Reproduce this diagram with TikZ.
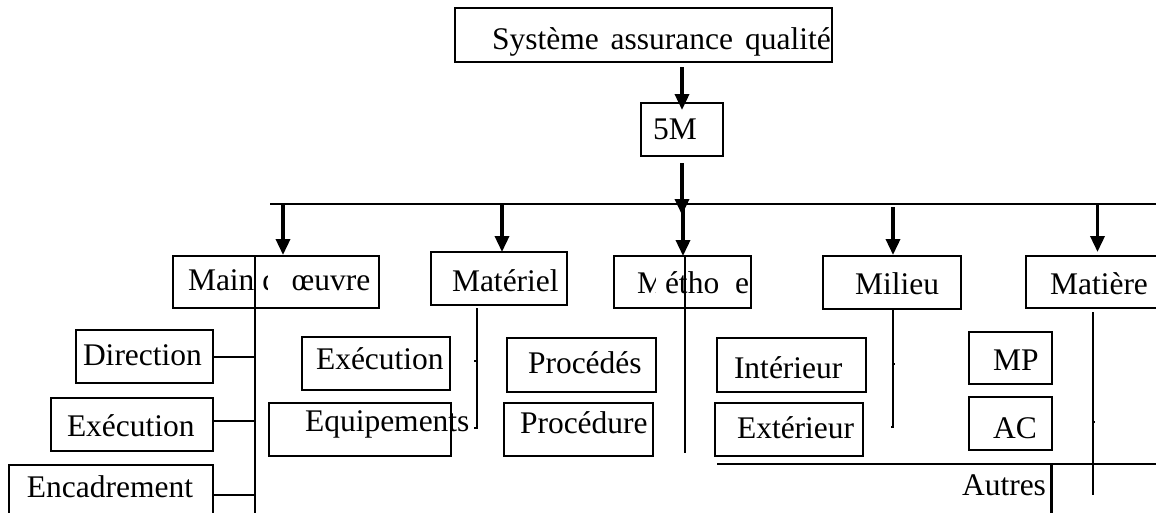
\documentclass[tikz,border=0pt]{standalone}
\usepackage{fontspec}
\setmainfont{Liberation Serif}
\usetikzlibrary{arrows.meta}
\begin{document}
\begin{tikzpicture}[x=1pt,y=-1pt,
  box/.style={draw, line width=2pt, inner sep=0pt, outer sep=0pt},
  lbl/.style={inner sep=0pt, outer sep=0pt, anchor=base west, font=\fontsize{31.5}{36}\selectfont},
  arr/.style={line width=3.5pt, -{Triangle[width=14pt,length=16pt]}},
  ln/.style={line width=2pt},
  bold/.style={line width=2.6pt}]
\useasboundingbox (0,0) rectangle (1156,512);
\clip (0,0) rectangle (1156,512);
\newcommand\mybox[5]{\node[box, minimum width={(#4-#2)*1pt}, minimum height={(#5-#3)*1pt}] (#1) at ({(#2+#4)/2},{(#3+#5)/2}) {};}
% boxes
\mybox{top}{455}{8}{832}{62}
\mybox{m5}{641}{103}{723}{156}
\mybox{main}{173}{256}{379}{308}
\mybox{mat}{431}{252}{567}{305}
\mybox{meth}{614}{256}{751}{308}
\mybox{mil}{823}{256}{961}{309}
\mybox{mtr}{1026}{256}{1175}{308}
\mybox{dir}{76}{330}{213}{383}
\mybox{exe}{51}{398}{213}{451}
\mybox{enc}{9}{465}{213}{516}
\mybox{exe2}{302}{337}{450}{390}
\mybox{equ}{269}{403}{451}{456}
\mybox{proc}{507}{338}{656}{392}
\mybox{procd}{504}{403}{653}{456}
\mybox{int}{717}{338}{866}{392}
\mybox{ext}{715}{403}{863}{456}
\mybox{mp}{969}{332}{1052}{384}
\mybox{ac}{969}{397}{1052}{450}
% labels
\node[lbl] (ttop) at (492,49) {Système\hspace{12pt}assurance\hspace{12pt}qualité};
\node[lbl] (tm5) at (653,139) {5M};
\node[lbl] (tmain) at (188,290) {Main d’\hspace{3pt}œuvre};
\node[lbl] (tmat) at (452,291) {Matériel};
\node[lbl] (tmeth) at (637,293) {Méthode};
\node[lbl] (tmil) at (855,294) {Milieu};
\node[lbl] (tmtr) at (1050,294) {Matière};
\node[lbl] (tdir) at (83,365) {Direction};
\node[lbl] (texe) at (67,436) {Exécution};
\node[lbl] (tenc) at (27,497) {Encadrement};
\node[lbl] (texe2) at (316,369) {Exécution};
\node[lbl] (tequ) at (305,431) {Equipements};
\node[lbl] (tproc) at (528,373) {Procédés};
\node[lbl] (tprocd) at (520,433) {Procédure};
\node[lbl] (tint) at (734,378) {Intérieur};
\node[lbl] (text) at (737,438) {Extérieur};
\node[lbl] (tmp) at (993,370) {MP};
\node[lbl] (tac) at (993,438) {AC};
\node[lbl] (taut) at (962,495) {Autres};
% parts of the labels hidden in the original
\fill[white] ([shift={(80,-24)}]tmain.base west) rectangle ++(22,27);
\fill[white] ([shift={(19,-24)}]tmeth.base west) rectangle ++(8.5,27);
\fill[white] ([shift={(82.5,-24)}]tmeth.base west) rectangle ++(15,27);
% arrows
\coordinate (busL) at (270,204);
\coordinate (busR) at (1160,204);
\draw[arr] ([yshift=-5pt]top.south -| m5.north) -- ([yshift=-7pt]m5.north);
\draw[arr] ([yshift=-7pt]m5.south) -- ([yshift=-11pt]m5.south |- busL);
\draw[bold] (busL) -- (busR);
\draw[arr] ([xshift=7pt]main.north |- busL) -- ([xshift=7pt,yshift=1pt]main.north);
\draw[arr] ([xshift=3pt]mat.north |- busL) -- ([xshift=3pt]mat.north);
\draw[arr] ([xshift=0.5pt]meth.north |- busL) -- ([xshift=0.5pt]meth.north);
\draw[arr] ([xshift=1pt,yshift=-3pt]mil.north |- busL) -- ([xshift=1pt,yshift=1pt]mil.north);
\draw[arr] ([xshift=-3pt]mtr.north |- busL) -- ([xshift=-3pt,yshift=4pt]mtr.north);
% Main d'oeuvre branch
\coordinate (mainB) at (255,515);
\draw[bold] (main.north -| mainB) -- (mainB);
\draw[ln] (dir.east) -- (dir.east -| mainB);
\draw[ln] ([yshift=3.5pt]exe.east) -- ([yshift=3.5pt]exe.east -| mainB);
\draw[ln] ([yshift=-4pt]enc.east) -- ([yshift=-4pt]enc.east -| mainB);
% Materiel branch
\coordinate (matB) at (477,428);
\draw[ln] ([yshift=-3pt]mat.south -| matB) -- (matB) -- ++(-3,0);
\draw[line width=1.2pt] (matB |- 0,361) -- ++(-3,0);
% Methode branch
\coordinate (methB) at (685,453);
\draw[bold] (meth.north -| methB) -- (methB);
% Milieu branch
\coordinate (milB) at (893,427);
\draw[ln] (mil.south -| milB) -- (milB) -- ++(-2,0);
\draw[line width=1.2pt] (milB |- 0,364) -- ++(2,0);
% Autres
\coordinate (autL) at (717,464);
\coordinate (autR) at (1160,464);
\draw[bold] (autL) -- (autR);
\draw[line width=3pt] ([xshift=6pt]taut.east |- autL) -- ++(0,52);
% Matiere branch
\coordinate (mtrB) at (1093,495);
\draw[line width=1.6pt] ([yshift=-4pt]mtr.south -| mtrB) -- (mtrB);
\draw[line width=1.2pt] (mtrB |- 0,422) -- ++(2,0);
\end{tikzpicture}
\end{document}
